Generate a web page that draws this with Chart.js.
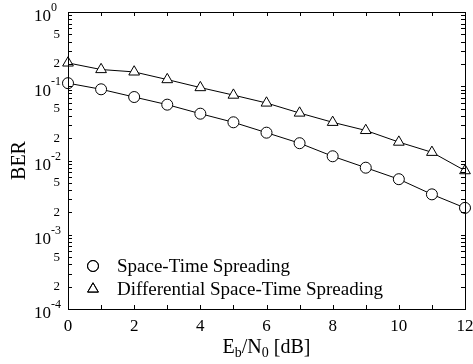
<!DOCTYPE html>
<html>
<head>
<meta charset="utf-8">
<script src="https://cdn.jsdelivr.net/npm/chart.js@4/dist/chart.umd.min.js"></script>
<style>
  html, body { margin: 0; padding: 0; background: #fff; }
  canvas { display: block; }
</style>
</head>
<body>
<canvas id="berChart" width="473" height="364"></canvas>
<script>
const ebn0 = [0, 1, 2, 3, 4, 5, 6, 7, 8, 9, 10, 11, 12];
const stsBer = [0.110, 0.091, 0.0716, 0.0565, 0.0427, 0.0327, 0.0237, 0.0171, 0.0114, 0.0080, 0.0056, 0.0035, 0.0023];
const dstsBer = [0.206, 0.168, 0.156, 0.123, 0.096, 0.076, 0.0595, 0.0436, 0.0327, 0.0254, 0.0177, 0.0129, 0.0073];
const seriesNames = ['Space-Time Spreading', 'Differential Space-Time Spreading'];
const xTickLabels = [0, 2, 4, 6, 8, 10, 12];
const yDecades = [0, -1, -2, -3, -4];
const yMinorLabels = [5, 2];

const FONT = '"Liberation Serif", "DejaVu Serif", serif';

function toPoints(xs, ys) {
  return xs.map((v, i) => ({ x: v, y: ys[i] }));
}

const circleStyle = { pointStyle: 'circle', radius: 5.5, borderWidth: 1, rotation: 0 };
const triangleStyle = { pointStyle: 'triangle', radius: 6.2, borderWidth: 1, rotation: 0 };

// box, inward ticks, tick labels, titles and the legend are drawn by hand
const axesPlugin = {
  id: 'axesPlugin',
  afterDraw(chart) {
    const { ctx, chartArea: a, scales: { x, y } } = chart;
    ctx.save();
    ctx.strokeStyle = '#000';
    ctx.fillStyle = '#000';
    ctx.lineWidth = 1;

    const seg = (x1, y1, x2, y2) => {
      ctx.beginPath(); ctx.moveTo(x1, y1); ctx.lineTo(x2, y2); ctx.stroke();
    };

    ctx.strokeRect(a.left + 0.5, a.top + 0.5, a.right - a.left, a.bottom - a.top);

    // x ticks every unit
    for (let v = x.min; v <= x.max; v++) {
      const px = Math.round(x.getPixelForValue(v)) + 0.5;
      seg(px, a.bottom, px, a.bottom - 4);
      seg(px, a.top, px, a.top + 4);
    }
    // y ticks 1..9 per decade
    for (let e = -4; e < 0; e++) {
      for (let m = 1; m < 10; m++) {
        const py = Math.round(y.getPixelForValue(m * Math.pow(10, e))) + 0.5;
        seg(a.left, py, a.left + 4, py);
        seg(a.right, py, a.right - 4, py);
      }
    }

    // x tick labels
    ctx.font = '17px ' + FONT;
    ctx.textAlign = 'center';
    ctx.textBaseline = 'middle';
    xTickLabels.forEach(v => {
      ctx.fillText(String(v), x.getPixelForValue(v), a.bottom + 18);
    });

    // y tick labels
    yDecades.forEach(e => {
      const py = y.getPixelForValue(Math.pow(10, e));
      ctx.font = '17px ' + FONT;
      ctx.textAlign = 'right';
      ctx.textBaseline = 'middle';
      ctx.fillText('10', a.left - 17, py + 5);
      ctx.font = '12px ' + FONT;
      ctx.textAlign = 'left';
      ctx.fillText(String(e), a.left - 17, py - 4);
      if (e > -4) {
        yMinorLabels.forEach(m => {
          const pm = y.getPixelForValue(m * Math.pow(10, e - 1));
          ctx.font = '13px ' + FONT;
          ctx.textAlign = 'right';
          ctx.fillText(String(m), a.left - 8, pm);
        });
      }
    });

    // x title: E_b/N_0 [dB]
    const parts = [['E', 20, 0], ['b', 14, 4], ['/N', 20, 0], ['0', 14, 4], [' [dB]', 20, 0]];
    let total = 0;
    parts.forEach(p => { ctx.font = p[1] + 'px ' + FONT; total += ctx.measureText(p[0]).width; });
    let cx = (a.left + a.right) / 2 - total / 2;
    ctx.textAlign = 'left';
    ctx.textBaseline = 'alphabetic';
    parts.forEach(p => {
      ctx.font = p[1] + 'px ' + FONT;
      ctx.fillText(p[0], cx, 353 + p[2]);
      cx += ctx.measureText(p[0]).width;
    });

    // y title
    ctx.save();
    ctx.translate(20, (a.top + a.bottom) / 2);
    ctx.rotate(-Math.PI / 2);
    ctx.font = '20px ' + FONT;
    ctx.textAlign = 'center';
    ctx.textBaseline = 'middle';
    ctx.fillText('BER', 0, 0);
    ctx.restore();

    // legend
    const styles = [circleStyle, triangleStyle];
    seriesNames.forEach((name, i) => {
      const ly = 266 + i * 23;
      ctx.fillStyle = '#fff';
      Chart.helpers.drawPoint(ctx, styles[i], 93, ly);
      ctx.stroke();
      ctx.fillStyle = '#000';
      ctx.font = '19px ' + FONT;
      ctx.textAlign = 'left';
      ctx.textBaseline = 'middle';
      ctx.fillText(name, 117, ly + 1);
    });

    ctx.restore();
  }
};

new Chart(document.getElementById('berChart'), {
  type: 'line',
  data: {
    datasets: [
      {
        label: seriesNames[0],
        data: toPoints(ebn0, stsBer),
        borderColor: '#000',
        borderWidth: 1,
        pointStyle: 'circle',
        pointRadius: circleStyle.radius,
        pointBorderWidth: 1,
        pointBorderColor: '#000',
        pointBackgroundColor: '#fff',
        tension: 0,
        clip: false
      },
      {
        label: seriesNames[1],
        data: toPoints(ebn0, dstsBer),
        borderColor: '#000',
        borderWidth: 1,
        pointStyle: 'triangle',
        pointRadius: triangleStyle.radius,
        pointBorderWidth: 1,
        pointBorderColor: '#000',
        pointBackgroundColor: '#fff',
        tension: 0,
        clip: false
      }
    ]
  },
  options: {
    responsive: false,
    animation: false,
    layout: { padding: { left: 68, right: 8, top: 12, bottom: 55 } },
    scales: {
      x: { type: 'linear', min: 0, max: 12, display: false },
      y: { type: 'logarithmic', min: 1e-4, max: 1, display: false }
    },
    plugins: {
      legend: { display: false },
      tooltip: { enabled: false }
    }
  },
  plugins: [axesPlugin]
});
</script>
</body>
</html>
